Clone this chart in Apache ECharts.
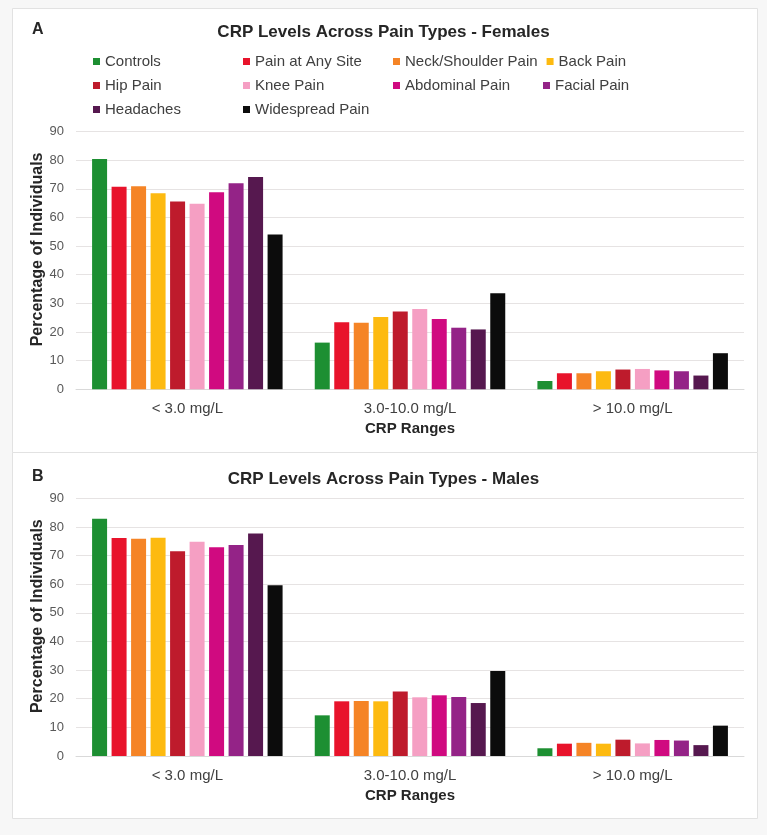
<!DOCTYPE html>
<html>
<head>
<meta charset="utf-8">
<script src="https://cdn.jsdelivr.net/npm/echarts@6/dist/echarts.min.js"></script>
<style>
html,body{margin:0;padding:0;background:#f7f7f7;}
#chart{width:767px;height:835px;}
</style>
</head>
<body>
<div id="chart"></div>
<script>
const categories = ['< 3.0 mg/L', '3.0-10.0 mg/L', '> 10.0 mg/L'];
const seriesNames = ['Controls', 'Pain at Any Site', 'Neck/Shoulder Pain', 'Back Pain', 'Hip Pain', 'Knee Pain', 'Abdominal Pain', 'Facial Pain', 'Headaches', 'Widespread Pain'];
const yTicks = [0, 10, 20, 30, 40, 50, 60, 70, 80, 90];

// Panel A - Females
const femControls   = [80.4, 16.3, 2.9];
const femPainAny    = [70.7, 23.4, 5.6];
const femNeck       = [70.9, 23.2, 5.6];
const femBack       = [68.4, 25.2, 6.3];
const femHip        = [65.6, 27.2, 6.9];
const femKnee       = [64.8, 28.0, 7.1];
const femAbdominal  = [68.8, 24.5, 6.6];
const femFacial     = [71.9, 21.5, 6.3];
const femHeadaches  = [74.1, 20.9, 4.8];
const femWidespread = [54.0, 33.5, 12.6];

// Panel B - Males
const maleControls   = [82.9, 14.2, 2.7];
const malePainAny    = [76.1, 19.1, 4.3];
const maleNeck       = [75.9, 19.2, 4.6];
const maleBack       = [76.2, 19.1, 4.3];
const maleHip        = [71.5, 22.5, 5.7];
const maleKnee       = [74.8, 20.5, 4.4];
const maleAbdominal  = [72.9, 21.2, 5.6];
const maleFacial     = [73.7, 20.6, 5.4];
const maleHeadaches  = [77.7, 18.5, 3.8];
const maleWidespread = [59.6, 29.7, 10.6];

const colors = ['#1d8f32', '#e8132b', '#f58426', '#fdba10', '#be1b2c', '#f59fc3', '#d00a80', '#942387', '#56184f', '#0c0c0c'];

const femData = [femControls, femPainAny, femNeck, femBack, femHip, femKnee, femAbdominal, femFacial, femHeadaches, femWidespread];
const maleData = [maleControls, malePainAny, maleNeck, maleBack, maleHip, maleKnee, maleAbdominal, maleFacial, maleHeadaches, maleWidespread];

const FONT = '"Liberation Sans", Arial, sans-serif';

function makeX(idx) {
  return {
    type: 'category', gridIndex: idx, data: categories,
    axisTick: { show: false },
    axisLine: { lineStyle: { color: '#d9d9d9' } },
    axisLabel: { color: '#404040', fontSize: 15, fontFamily: FONT, margin: 12 },
    name: 'CRP Ranges', nameLocation: 'middle', nameGap: 32, nameMoveOverlap: false,
    nameTextStyle: { color: '#262626', fontSize: 15, fontWeight: 'bold', fontFamily: FONT }
  };
}
function makeY(idx) {
  return {
    type: 'value', gridIndex: idx, min: yTicks[0], max: yTicks[yTicks.length - 1], interval: yTicks[1] - yTicks[0],
    axisLine: { show: false }, axisTick: { show: false },
    axisLabel: { color: '#595959', fontSize: 13, fontFamily: FONT, margin: 12 },
    splitLine: { lineStyle: { color: '#e6e3e3' } },
    name: 'Percentage of Individuals', nameLocation: 'middle', nameGap: 30, nameMoveOverlap: false,
    nameTextStyle: { color: '#262626', fontSize: 16, fontWeight: 'bold', fontFamily: FONT, padding: [0, 0, 0, 22] }
  };
}

const series = [];
[femData, maleData].forEach((set, gi) => {
  set.forEach((vals, i) => {
    series.push({
      name: seriesNames[i], type: 'bar', xAxisIndex: gi, yAxisIndex: gi,
      data: vals, barWidth: 15, barGap: '30%',
      itemStyle: { color: colors[i] }
    });
  });
});

const chart = echarts.init(document.getElementById('chart'));
chart.setOption({
  animation: false,
  backgroundColor: '#f7f7f7',
  graphic: [
    { type: 'rect', shape: { x: 12.5, y: 8.5, width: 745, height: 444 }, style: { fill: '#ffffff', stroke: '#e2e2e2', lineWidth: 1 }, z: -10 },
    { type: 'rect', shape: { x: 12.5, y: 452.5, width: 745, height: 366 }, style: { fill: '#ffffff', stroke: '#e2e2e2', lineWidth: 1 }, z: -10 },
    { type: 'text', left: 32, top: 22, style: { text: 'A', font: 'bold 16px ' + FONT, fill: '#262626' } },
    { type: 'text', left: 32, top: 469, style: { text: 'B', font: 'bold 16px ' + FONT, fill: '#262626' } }
  ],
  title: [
    { text: 'CRP Levels Across Pain Types - Females', left: 'center', top: 19,
      textStyle: { fontSize: 17, fontWeight: 'bold', color: '#262626', fontFamily: FONT } },
    { text: 'CRP Levels Across Pain Types - Males', left: 'center', top: 466,
      textStyle: { fontSize: 17, fontWeight: 'bold', color: '#262626', fontFamily: FONT } }
  ],
  legend: {
    data: seriesNames, left: 88, top: 49, width: 620,
    icon: 'rect', itemWidth: 7, itemHeight: 7, itemGap: 9,
    formatter: '{a|{name}}',
    textStyle: { color: '#404040', fontSize: 15, fontFamily: FONT, rich: { a: { width: 129, fontSize: 15, fontFamily: FONT, color: '#404040', lineHeight: 14 } } }
  },
  grid: [
    { left: 76, right: 23, top: 131.5, height: 257.8 },
    { left: 76, right: 23, top: 498.3, height: 257.7 }
  ],
  xAxis: [makeX(0), makeX(1)],
  yAxis: [makeY(0), makeY(1)],
  series: series
});
</script>
</body>
</html>
